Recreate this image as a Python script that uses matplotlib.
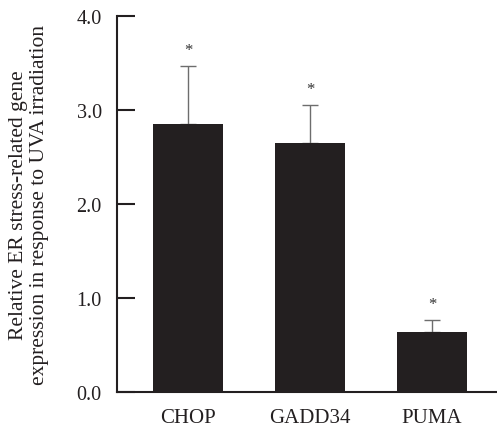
import numpy as np
import matplotlib.pyplot as plt

genes = ['CHOP', 'GADD34', 'PUMA']
expr = [2.845, 2.65, 0.635]
err = [0.615, 0.40, 0.125]

plt.rcParams['font.family'] = 'Liberation Serif'

fig = plt.figure(figsize=(4.97, 4.27), dpi=100)
ax = fig.add_axes([117/497, 1-392.7/427, 380/497, 376/427])

x = np.arange(len(genes))
ax.bar(x, expr, width=0.574, color='#231f20', zorder=2)
ax.errorbar(x, expr, yerr=[np.zeros(3), err], fmt='none', ecolor='#6d6d6d',
            elinewidth=1.0, capsize=6, capthick=1.0, zorder=1)
# significance marks
for xi, yi, ei in zip(x, expr, err):
    ax.text(xi, yi + ei + 0.17, '*', ha='center', va='center', fontsize=12, color='#333333')

ax.set_xlim(-0.582, 2.533)
ax.set_ylim(0, 4.0)
ax.set_yticks([0, 1, 2, 3, 4])
ax.set_yticklabels(['0.0', '1.0', '2.0', '3.0', '4.0'], fontsize=14.5, color='#231f20')
ax.set_xticks(x)
ax.set_xticklabels(genes, fontsize=15, color='#231f20')
ax.tick_params(axis='y', direction='in', length=13, width=1.5, pad=11, colors='#231f20')
ax.tick_params(axis='x', length=0, pad=12)
for s in ['top', 'right']:
    ax.spines[s].set_visible(False)
for s in ['left', 'bottom']:
    ax.spines[s].set_linewidth(1.5)
    ax.spines[s].set_color('#231f20')
ax.set_ylabel('Relative ER stress-related gene\nexpression in response to UVA irradiation',
              fontsize=15.5, color='#231f20', linespacing=1.1, labelpad=20)

fig.savefig('out.png', dpi=100)
